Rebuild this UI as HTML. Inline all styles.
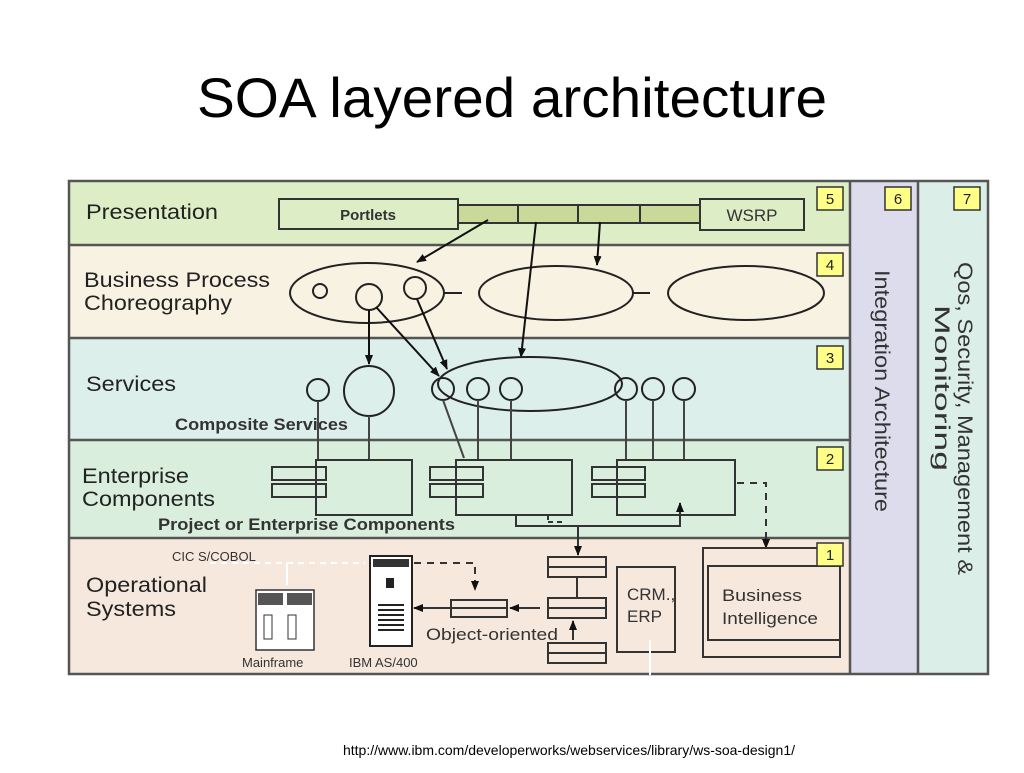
<!DOCTYPE html>
<html><head><meta charset="utf-8"><style>
body{margin:0;background:#fff;width:1024px;height:768px;overflow:hidden;font-family:"Liberation Sans",sans-serif}
</style></head><body>
<svg width="1024" height="768" viewBox="0 0 1024 768" xmlns="http://www.w3.org/2000/svg" font-family="Liberation Sans, sans-serif">
<defs><marker id="a" markerWidth="10" markerHeight="10" refX="9" refY="5" orient="auto" markerUnits="userSpaceOnUse"><path d="M0,1 L10,5 L0,9 z" fill="#111"/></marker></defs>
<text x="512" y="117" text-anchor="middle" font-size="56" fill="#000" textLength="630" lengthAdjust="spacingAndGlyphs">SOA layered architecture</text>
<!-- bands -->
<rect x="68" y="180" width="782" height="65" fill="#ddeec6"/>
<rect x="68" y="245" width="782" height="93" fill="#f8f2e2"/>
<rect x="68" y="338" width="782" height="102" fill="#dcefeb"/>
<rect x="68" y="440" width="782" height="98" fill="#d9eedc"/>
<rect x="68" y="538" width="782" height="137" fill="#f6e8dc"/>
<rect x="850" y="180" width="68" height="495" fill="#dcdcec"/>
<rect x="918" y="180" width="71" height="495" fill="#dbeee7"/>
<g stroke="#555" stroke-width="2.5" fill="none">
<rect x="69" y="181" width="919" height="493"/>
<line x1="68" y1="245" x2="850" y2="245"/><line x1="68" y1="338" x2="850" y2="338"/>
<line x1="68" y1="440" x2="850" y2="440"/><line x1="68" y1="538" x2="850" y2="538"/>
<line x1="850" y1="180" x2="850" y2="675"/><line x1="918" y1="180" x2="918" y2="675"/>
</g>
<!-- labels -->
<g font-size="21" fill="#222">
<text x="86" y="219" textLength="132" lengthAdjust="spacingAndGlyphs">Presentation</text>
<text x="84" y="287" textLength="186" lengthAdjust="spacingAndGlyphs">Business Process</text><text x="84" y="310" textLength="148" lengthAdjust="spacingAndGlyphs">Choreography</text>
<text x="86" y="391" textLength="90" lengthAdjust="spacingAndGlyphs">Services</text>
<text x="82" y="483" textLength="107" lengthAdjust="spacingAndGlyphs">Enterprise</text><text x="82" y="506" textLength="133" lengthAdjust="spacingAndGlyphs">Components</text>
<text x="86" y="592" textLength="121" lengthAdjust="spacingAndGlyphs">Operational</text><text x="86" y="616" textLength="90" lengthAdjust="spacingAndGlyphs">Systems</text>
</g>
<g font-size="17" fill="#333" font-weight="bold">
<text x="175" y="430" textLength="173" lengthAdjust="spacingAndGlyphs">Composite Services</text>
<text x="158" y="530" textLength="297" lengthAdjust="spacingAndGlyphs">Project or Enterprise Components</text>
</g>
<text transform="translate(875,270) rotate(90)" font-size="21" fill="#333" textLength="242" lengthAdjust="spacingAndGlyphs">Integration Architecture</text>
<text transform="translate(958,262) rotate(90)" font-size="21" fill="#333" textLength="313" lengthAdjust="spacingAndGlyphs">Qos, Security, Management &amp;</text>
<text transform="translate(935,305) rotate(90)" font-size="21" fill="#333" textLength="166" lengthAdjust="spacingAndGlyphs">Monitoring</text>
<!-- presentation -->
<g stroke="#333" stroke-width="2">
<rect x="279" y="199" width="179" height="30" fill="#ddeec6"/>
<rect x="458" y="205" width="242" height="18" fill="#c9d99a"/>
<line x1="518" y1="205" x2="518" y2="223"/><line x1="578" y1="205" x2="578" y2="223"/><line x1="640" y1="205" x2="640" y2="223"/>
<rect x="700" y="199" width="104" height="31" fill="#ddeec6"/>
</g>
<text x="368" y="220" font-size="15" text-anchor="middle" fill="#333" font-weight="bold">Portlets</text>
<text x="752" y="221" font-size="17" text-anchor="middle" fill="#333">WSRP</text>
<!-- BPC -->
<g stroke="#222" stroke-width="2" fill="none">
<ellipse cx="367" cy="293" rx="77" ry="30"/><circle cx="320" cy="291" r="7"/><circle cx="369" cy="297" r="13"/><circle cx="415" cy="288" r="11"/>
<line x1="444" y1="293" x2="462" y2="293"/>
<ellipse cx="556" cy="293" rx="77" ry="27"/><line x1="633" y1="293" x2="650" y2="293"/>
<ellipse cx="746" cy="293" rx="78" ry="27"/>
</g>
<g stroke="#111" stroke-width="2" marker-end="url(#a)">
<line x1="488" y1="220" x2="417" y2="262"/>
<line x1="536" y1="222" x2="521" y2="357"/>
<line x1="600" y1="222" x2="597" y2="265"/>
<line x1="369" y1="310" x2="369" y2="364"/>
<line x1="376" y1="307" x2="439" y2="376"/>
<line x1="417" y1="299" x2="447" y2="369"/>
</g>
<!-- services -->
<g stroke="#222" stroke-width="2" fill="none">
<ellipse cx="530" cy="384" rx="92" ry="27"/>
<circle cx="318" cy="390" r="11"/><circle cx="369" cy="391" r="25"/>
<circle cx="443" cy="389" r="11"/><circle cx="478" cy="389" r="11"/><circle cx="511" cy="389" r="11"/>
<circle cx="626" cy="389" r="11"/><circle cx="653" cy="389" r="11"/><circle cx="684" cy="389" r="11"/>
</g>
<g stroke="#444" stroke-width="2">
<line x1="318" y1="401" x2="318" y2="460"/><line x1="369" y1="416" x2="369" y2="460"/>
<line x1="443" y1="400" x2="464" y2="458"/><line x1="478" y1="400" x2="478" y2="460"/><line x1="511" y1="400" x2="511" y2="460"/>
<line x1="626" y1="400" x2="626" y2="460"/><line x1="653" y1="400" x2="653" y2="460"/><line x1="684" y1="400" x2="684" y2="460"/>
</g>
<!-- enterprise components -->
<g stroke="#333" stroke-width="2" fill="#d9eedc">
<rect x="272" y="467" width="54" height="13"/><rect x="272" y="484" width="54" height="13"/>
<rect x="430" y="467" width="53" height="13"/><rect x="430" y="484" width="53" height="13"/>
<rect x="592" y="467" width="53" height="13"/><rect x="592" y="484" width="53" height="13"/>
</g>
<g stroke="#333" stroke-width="2" fill="none">
<rect x="316" y="460" width="96" height="55"/><rect x="456" y="460" width="116" height="55"/><rect x="617" y="460" width="118" height="55"/>
<polyline points="516,515 516,526 680,526 680,503" marker-end="url(#a)"/>
<line x1="548" y1="515" x2="548" y2="522" stroke-dasharray="5,4"/>
<line x1="548" y1="522" x2="565" y2="522" stroke-dasharray="5,4"/>
<line x1="578" y1="526" x2="578" y2="555" marker-end="url(#a)"/>
<polyline points="737,483 766,483 766,548" stroke-dasharray="7,6" marker-end="url(#a)"/>
</g>
<!-- operational -->
<g stroke="#333" stroke-width="2" fill="#f6e8dc">
<line x1="577" y1="577" x2="577" y2="598"/>
<rect x="548" y="557" width="58" height="20"/><line x1="548" y1="567" x2="606" y2="567"/>
<rect x="548" y="598" width="58" height="20"/><line x1="548" y1="608" x2="606" y2="608"/>
<rect x="548" y="643" width="58" height="20"/><line x1="548" y1="653" x2="606" y2="653"/>
<rect x="617" y="567" width="58" height="85"/>
<rect x="703" y="548" width="137" height="109"/>
<rect x="708" y="566" width="132" height="74"/>
<rect x="451" y="600" width="56" height="17"/><line x1="451" y1="608" x2="507" y2="608"/>
</g>
<g stroke="#333" stroke-width="2" fill="none">
<line x1="540" y1="608" x2="510" y2="608" marker-end="url(#a)"/>
<line x1="451" y1="608" x2="414" y2="608" marker-end="url(#a)"/>
<line x1="573" y1="640" x2="573" y2="621" marker-end="url(#a)"/>
<polyline points="414,563 475,563 475,590" stroke-dasharray="7,6" marker-end="url(#a)"/>
</g>
<line x1="650" y1="675" x2="650" y2="640" stroke="#fff" stroke-width="2"/>
<line x1="210" y1="563" x2="365" y2="563" stroke="#fff" stroke-width="2" stroke-dasharray="6,5"/>
<line x1="287" y1="563" x2="287" y2="585" stroke="#fff" stroke-width="2"/>
<g font-size="17" fill="#333">
<text x="627" y="600">CRM.,</text><text x="627" y="622">ERP</text>
<text x="722" y="601" textLength="80" lengthAdjust="spacingAndGlyphs">Business</text><text x="722" y="624" textLength="96" lengthAdjust="spacingAndGlyphs">Intelligence</text>
<text x="426" y="640" textLength="132" lengthAdjust="spacingAndGlyphs">Object-oriented</text>
</g>
<g font-size="13" fill="#333">
<text x="172" y="561">CIC S/COBOL</text>
<text x="242" y="667">Mainframe</text>
<text x="349" y="667">IBM AS/400</text>
</g>
<!-- AS/400 -->
<rect x="370" y="556" width="42" height="90" fill="#fff" stroke="#222" stroke-width="2"/>
<rect x="373" y="559" width="36" height="8" fill="#333"/>
<rect x="386" y="578" width="8" height="10" fill="#222"/>
<g stroke="#222" stroke-width="2"><line x1="378" y1="605" x2="404" y2="605"/><line x1="378" y1="610" x2="404" y2="610"/><line x1="378" y1="615" x2="404" y2="615"/><line x1="378" y1="620" x2="404" y2="620"/><line x1="378" y1="625" x2="404" y2="625"/><line x1="378" y1="630" x2="404" y2="630"/></g>
<!-- mainframe -->
<rect x="256" y="590" width="58" height="60" fill="#fff" stroke="#333" stroke-width="1.5"/>
<rect x="258" y="593" width="25" height="12" fill="#555"/><rect x="287" y="593" width="25" height="12" fill="#555"/>
<rect x="264" y="615" width="8" height="24" fill="none" stroke="#333"/><rect x="288" y="615" width="8" height="24" fill="none" stroke="#333"/>
<!-- numbers -->
<g fill="#ffff88" stroke="#333" stroke-width="1.5">
<rect x="817" y="187" width="26" height="23"/><rect x="885" y="187" width="26" height="23"/><rect x="954" y="187" width="26" height="23"/>
<rect x="817" y="253" width="26" height="23"/><rect x="817" y="346" width="26" height="23"/><rect x="817" y="447" width="26" height="23"/><rect x="817" y="543" width="26" height="23"/>
</g>
<g font-size="15" text-anchor="middle" fill="#222">
<text x="830" y="204">5</text><text x="898" y="204">6</text><text x="967" y="204">7</text>
<text x="830" y="270">4</text><text x="830" y="363">3</text><text x="830" y="464">2</text><text x="830" y="560">1</text>
</g>
<text x="569" y="755" font-size="14" text-anchor="middle" fill="#000">http://www.ibm.com/developerworks/webservices/library/ws-soa-design1/</text>
</svg>
</body></html>
